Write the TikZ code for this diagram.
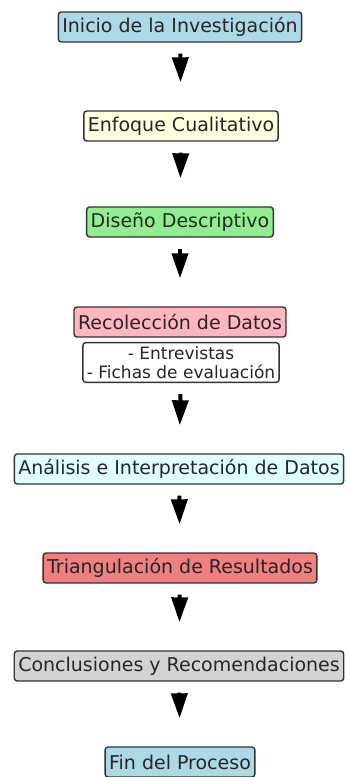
\documentclass[tikz,border=0pt]{standalone}
\usepackage{fontspec}
\setmainfont{DejaVu Sans}
\usetikzlibrary{arrows.meta}
\begin{document}
\begin{tikzpicture}[x=1pt,y=1pt,
    paso/.style={draw=black!80,line width=1.4pt,rounded corners=3pt,
      minimum height=30pt,inner xsep=4pt,inner ysep=2pt,
      font=\fontsize{19}{21}\selectfont,text=black!85},
    flecha/.style={line width=4pt,-{Triangle[length=25pt,width=16pt]},
      shorten <=11pt,shorten >=28pt}]
  \useasboundingbox (0,0) rectangle (348,-777);
  \definecolor{azul}{HTML}{ADD8E6}
  \definecolor{amarillo}{HTML}{FFFFE0}
  \definecolor{verde}{HTML}{90EE90}
  \definecolor{rosa}{HTML}{FFB6C1}
  \definecolor{cian}{HTML}{E0FFFF}
  \definecolor{coral}{HTML}{F08080}
  \definecolor{gris}{HTML}{D3D3D3}
  \path (180,-27) node[paso,fill=azul] (inicio) {Inicio de la Investigación};
  \path (181,-126) node[paso,fill=amarillo] (enfoque) {Enfoque Cualitativo};
  \path (180,-222) node[paso,fill=verde] (diseno) {Diseño Descriptivo};
  \path (180,-322) node[paso,fill=rosa] (recoleccion) {Recolección de Datos};
  \path (181,-362.5) node[paso,fill=white,align=center,inner ysep=4pt,
    font=\fontsize{17}{18.5}\selectfont] (tecnicas)
    {- Entrevistas\\- Fichas de evaluación};
  \path (179,-469) node[paso,fill=cian] (analisis)
    {Análisis e Interpretación de Datos};
  \path (180,-568) node[paso,fill=coral] (triangulacion)
    {Triangulación de Resultados};
  \path (179,-666) node[paso,fill=gris] (conclusiones)
    {Conclusiones y Recomendaciones};
  \path (180,-762) node[paso,fill=azul] (fin) {Fin del Proceso};
  \draw[flecha] (inicio) -- (enfoque);
  \draw[flecha] (enfoque) -- (diseno);
  \draw[flecha] (diseno) -- (recoleccion);
  \draw[flecha] (tecnicas) -- (analisis);
  \draw[flecha] (analisis) -- (triangulacion);
  \draw[flecha] (triangulacion) -- (conclusiones);
  \draw[flecha] (conclusiones) -- (fin);
\end{tikzpicture}
\end{document}
